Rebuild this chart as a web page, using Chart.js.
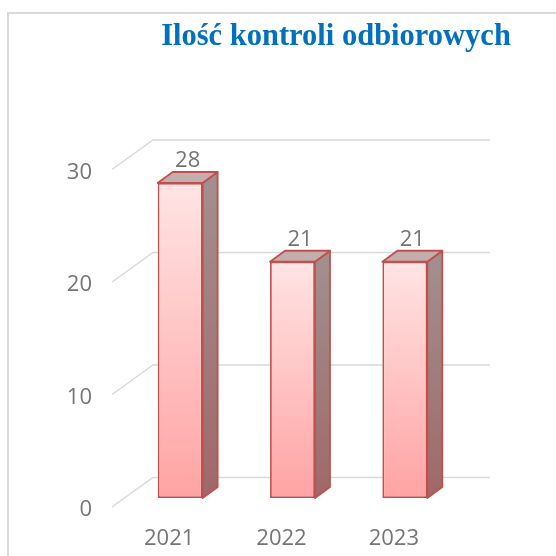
<!DOCTYPE html>
<html>
<head>
<meta charset="utf-8">
<script src="https://cdn.jsdelivr.net/npm/chart.js@4"></script>
<style>
html, body { margin: 0; padding: 0; background: #fff; }
#wrap { width: 556px; height: 556px; }
</style>
</head>
<body>
<div id="wrap"><canvas id="wykresKontrole"></canvas></div>
<script>
var tytul = 'Ilość kontroli odbiorowych';
var lata = ['2021', '2022', '2023'];
var kontrole = [28, 21, 21];
var podzialkaY = [0, 10, 20, 30];

var szary = '#757575';
var czcionka = { family: '"Open Sans", sans-serif', size: 22 };

// przesuniecia dla efektu 3D: glebokosc slupka, tylna sciana, przednia krawedz
var GLEB = { dx: 15, dy: -11 };
var SCIANA = { dx: 29, dy: -20.5 };
var PRZOD = { dx: -12, dy: 9 };

var efekt3d = {
    id: 'efekt3d',
    beforeDraw: function(chart) {
        var c = chart.ctx;
        c.save();
        c.fillStyle = '#ffffff';
        c.fillRect(0, 0, chart.width, chart.height);
        // ramka wykresu
        c.strokeStyle = '#d9d9d9';
        c.lineWidth = 2;
        c.beginPath();
        c.moveTo(8, chart.height + 5);
        c.lineTo(8, 13);
        c.lineTo(chart.width + 5, 13);
        c.stroke();
        // tytul
        c.font = 'bold 30.5px "Liberation Serif", serif';
        c.fillStyle = '#0070c0';
        c.textAlign = 'center';
        c.textBaseline = 'alphabetic';
        c.fillText(tytul, 336, 45);
        c.restore();
    },
    beforeDatasetsDraw: function(chart) {
        var c = chart.ctx, y = chart.scales.y, a = chart.chartArea;
        c.save();
        c.strokeStyle = '#d9d9d9';
        c.lineWidth = 1.5;
        podzialkaY.forEach(function(v) {
            var py = y.getPixelForValue(v);
            c.beginPath();
            c.moveTo(a.left + PRZOD.dx, py + PRZOD.dy);
            c.lineTo(a.left + SCIANA.dx, py + SCIANA.dy);
            c.lineTo(a.right + SCIANA.dx, py + SCIANA.dy);
            c.stroke();
        });
        c.restore();
    },
    afterDatasetsDraw: function(chart) {
        var c = chart.ctx;
        var meta = chart.getDatasetMeta(0);
        c.save();
        c.strokeStyle = '#c0504d';
        c.lineWidth = 1.8;
        c.lineJoin = 'round';
        meta.data.forEach(function(bar, i) {
            var p = bar.getProps(['x', 'y', 'base', 'width'], true);
            var L = p.x - p.width / 2, R = p.x + p.width / 2, T = p.y, B = p.base;

            // bok
            var g = c.createLinearGradient(0, T, 0, B);
            g.addColorStop(0, '#a38e8e');
            g.addColorStop(1, '#a06868');
            c.fillStyle = g;
            c.beginPath();
            c.moveTo(R, T);
            c.lineTo(R + GLEB.dx, T + GLEB.dy);
            c.lineTo(R + GLEB.dx, B + GLEB.dy);
            c.lineTo(R, B);
            c.closePath();
            c.fill();
            c.stroke();

            // gora
            c.fillStyle = '#c4adad';
            c.beginPath();
            c.moveTo(L, T);
            c.lineTo(L + GLEB.dx, T + GLEB.dy);
            c.lineTo(R + GLEB.dx, T + GLEB.dy);
            c.lineTo(R, T);
            c.closePath();
            c.fill();
            c.stroke();

            // etykieta wartosci
            c.fillStyle = szary;
            c.font = czcionka.size + 'px ' + czcionka.family;
            c.textAlign = 'center';
            c.textBaseline = 'middle';
            c.fillText(String(kontrole[i]), p.x + GLEB.dx / 2, T + GLEB.dy - 11);
        });
        c.restore();
    }
};

document.addEventListener('DOMContentLoaded', function() {
    var ctx = document.getElementById('wykresKontrole').getContext('2d');
    var wykres = new Chart(ctx, {
        type: 'bar',
        data: {
            labels: lata,
            datasets: [{
                label: 'Kontrole',
                data: kontrole,
                backgroundColor: function(context) {
                    var chart = context.chart, y = chart.scales.y;
                    if (!chart.chartArea || !y || context.type !== 'data') {
                        return '#ffc4c4';
                    }
                    var g = chart.ctx.createLinearGradient(0, y.getPixelForValue(context.raw), 0, y.getPixelForValue(0));
                    g.addColorStop(0, '#ffe4e4');
                    g.addColorStop(1, '#ffa3a3');
                    return g;
                },
                borderColor: '#c0504d',
                borderWidth: 1.8,
                borderSkipped: false,
                categoryPercentage: 0.4,
                barPercentage: 1
            }]
        },
        options: {
            responsive: true,
            maintainAspectRatio: false,
            animation: false,
            layout: {
                padding: { top: 160.5, right: 95, bottom: 0, left: 0 }
            },
            plugins: {
                legend: { display: false },
                tooltip: { enabled: false }
            },
            scales: {
                x: {
                    grid: { display: false, drawTicks: false },
                    border: { display: false },
                    ticks: {
                        color: szary,
                        font: czcionka,
                        padding: 28,
                        labelOffset: -11
                    },
                    afterFit: function(s) { s.height = 58; }
                },
                y: {
                    min: 0,
                    max: 30,
                    grid: { display: false, drawTicks: false },
                    border: { display: false },
                    ticks: {
                        stepSize: 10,
                        color: szary,
                        font: czcionka,
                        padding: 32,
                        labelOffset: 12
                    },
                    afterFit: function(s) { s.width = 124; }
                }
            }
        },
        plugins: [efekt3d]
    });
});
</script>
</body>
</html>
